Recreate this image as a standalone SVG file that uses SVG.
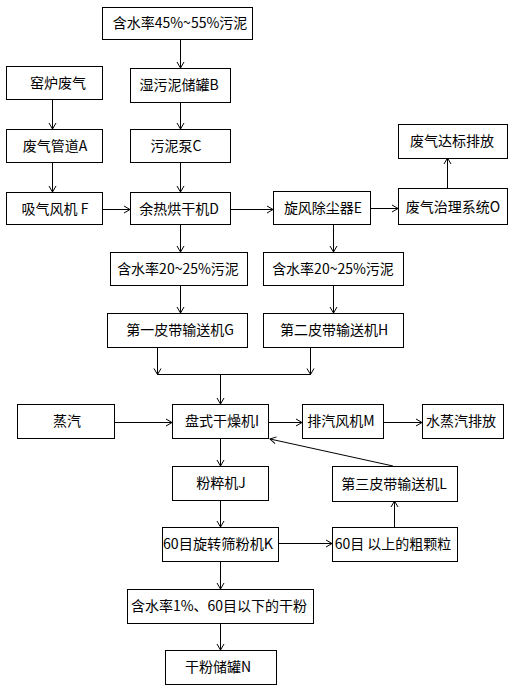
<svg xmlns="http://www.w3.org/2000/svg" width="513" height="690" viewBox="0 0 513 690">
<style>
rect{fill:#fff;stroke:#000;stroke-width:1}
text{font-family:"Noto Sans CJK SC","Liberation Sans",sans-serif;font-size:14px;fill:#000;text-anchor:middle}
#connectors line,#connectors polyline{stroke:#000;stroke-width:1;fill:none}
</style>
<defs>
<marker id="arr" markerUnits="userSpaceOnUse" markerWidth="10" markerHeight="10" viewBox="-8 -5 10 10" refX="0" refY="0" orient="auto">
<path d="M-6,-3.5 L0,0 L-6,3.5" fill="none" stroke="#000" stroke-width="1"/>
</marker>
</defs>
<rect x="0" y="0" width="513" height="690" style="stroke:none"/>
<g id="connectors">
<line x1="180.5" y1="39" x2="180.5" y2="68" marker-end="url(#arr)"/>
<line x1="52.5" y1="99" x2="52.5" y2="129" marker-end="url(#arr)"/>
<line x1="180.5" y1="102" x2="180.5" y2="129" marker-end="url(#arr)"/>
<line x1="52.5" y1="162" x2="52.5" y2="192" marker-end="url(#arr)"/>
<line x1="180.5" y1="162" x2="180.5" y2="192" marker-end="url(#arr)"/>
<line x1="102" y1="209.5" x2="130" y2="209.5" marker-end="url(#arr)"/>
<line x1="230" y1="209.5" x2="273" y2="209.5" marker-end="url(#arr)"/>
<line x1="370" y1="208.5" x2="398" y2="208.5" marker-end="url(#arr)"/>
<line x1="447.5" y1="188" x2="447.5" y2="158" marker-end="url(#arr)"/>
<line x1="180.5" y1="224" x2="180.5" y2="252" marker-end="url(#arr)"/>
<line x1="333.5" y1="224" x2="333.5" y2="252" marker-end="url(#arr)"/>
<line x1="180.5" y1="285" x2="180.5" y2="313" marker-end="url(#arr)"/>
<line x1="333.5" y1="285" x2="333.5" y2="313" marker-end="url(#arr)"/>
<line x1="157.5" y1="347" x2="157.5" y2="374.5" marker-end="url(#arr)"/>
<line x1="310.5" y1="347" x2="310.5" y2="374.5" marker-end="url(#arr)"/>
<line x1="157.5" y1="374.5" x2="310.5" y2="374.5"/>
<line x1="220.5" y1="374.5" x2="220.5" y2="404" marker-end="url(#arr)"/>
<line x1="114" y1="422.5" x2="172" y2="422.5" marker-end="url(#arr)"/>
<line x1="268" y1="422.5" x2="302" y2="422.5" marker-end="url(#arr)"/>
<line x1="383" y1="422.5" x2="422" y2="422.5" marker-end="url(#arr)"/>
<line x1="220.5" y1="438" x2="220.5" y2="466" marker-end="url(#arr)"/>
<line x1="393" y1="466" x2="270" y2="439" marker-end="url(#arr)"/>
<line x1="220.5" y1="500" x2="220.5" y2="527" marker-end="url(#arr)"/>
<line x1="278" y1="543.5" x2="332" y2="543.5" marker-end="url(#arr)"/>
<line x1="394.5" y1="527" x2="394.5" y2="501" marker-end="url(#arr)"/>
<line x1="220.5" y1="561" x2="220.5" y2="589" marker-end="url(#arr)"/>
<line x1="220.5" y1="623" x2="220.5" y2="650" marker-end="url(#arr)"/>
</g>
<g id="n_sludge45"><rect x="102.5" y="7.5" width="150" height="32"/><text x="180" y="28">含水率45%~55%污泥</text></g>
<g id="n_kiln"><rect x="6.5" y="66.5" width="96" height="33"/><text x="58" y="88">窑炉废气</text></g>
<g id="n_B"><rect x="130.5" y="68.5" width="100" height="34"/><text x="179" y="90">湿污泥储罐B</text></g>
<g id="n_A"><rect x="6.5" y="129.5" width="96" height="33"/><text x="55" y="151">废气管道A</text></g>
<g id="n_C"><rect x="130.5" y="129.5" width="100" height="33"/><text x="176" y="151">污泥泵C</text></g>
<g id="n_F"><rect x="6.5" y="192.5" width="96" height="32"/><text x="55" y="214">吸气风机 F</text></g>
<g id="n_D"><rect x="130.5" y="192.5" width="100" height="32"/><text x="179" y="214">余热烘干机D</text></g>
<g id="n_E"><rect x="273.5" y="191.5" width="97" height="33"/><text x="323" y="213">旋风除尘器E</text></g>
<g id="n_O"><rect x="398.5" y="188.5" width="109" height="36"/><text x="453" y="212">废气治理系统O</text></g>
<g id="n_emit"><rect x="398.5" y="124.5" width="109" height="34"/><text x="452" y="146">废气达标排放</text></g>
<g id="n_s20a"><rect x="110.5" y="252.5" width="137" height="33"/><text x="178" y="274">含水率20~25%污泥</text></g>
<g id="n_s20b"><rect x="263.5" y="252.5" width="140" height="33"/><text x="333" y="274">含水率20~25%污泥</text></g>
<g id="n_G"><rect x="107.5" y="313.5" width="140" height="34"/><text x="180" y="335">第一皮带输送机G</text></g>
<g id="n_H"><rect x="263.5" y="313.5" width="140" height="34"/><text x="334" y="335">第二皮带输送机H</text></g>
<g id="n_steam"><rect x="17.5" y="404.5" width="97" height="34"/><text x="67" y="426">蒸汽</text></g>
<g id="n_I"><rect x="172.5" y="404.5" width="96" height="34"/><text x="222" y="426">盘式干燥机I</text></g>
<g id="n_M"><rect x="302.5" y="404.5" width="81" height="34"/><text x="341" y="426">排汽风机M</text></g>
<g id="n_vapor"><rect x="422.5" y="404.5" width="81" height="34"/><text x="461" y="426">水蒸汽排放</text></g>
<g id="n_J"><rect x="172.5" y="466.5" width="96" height="34"/><text x="221" y="488">粉粹机J</text></g>
<g id="n_L"><rect x="332.5" y="466.5" width="125" height="35"/><text x="394" y="489">第三皮带输送机L</text></g>
<g id="n_K"><rect x="162.5" y="527.5" width="116" height="34"/><text x="218" y="549" textLength="110" lengthAdjust="spacingAndGlyphs">60目旋转筛粉机K</text></g>
<g id="n_coarse"><rect x="332.5" y="527.5" width="125" height="34"/><text x="393" y="549">60目 以上的粗颗粒</text></g>
<g id="n_powder"><rect x="127.5" y="589.5" width="186" height="34"/><text x="219" y="611">含水率1%、60目以下的干粉</text></g>
<g id="n_N"><rect x="165.5" y="650.5" width="111" height="34"/><text x="218" y="672">干粉储罐N</text></g>
</svg>
